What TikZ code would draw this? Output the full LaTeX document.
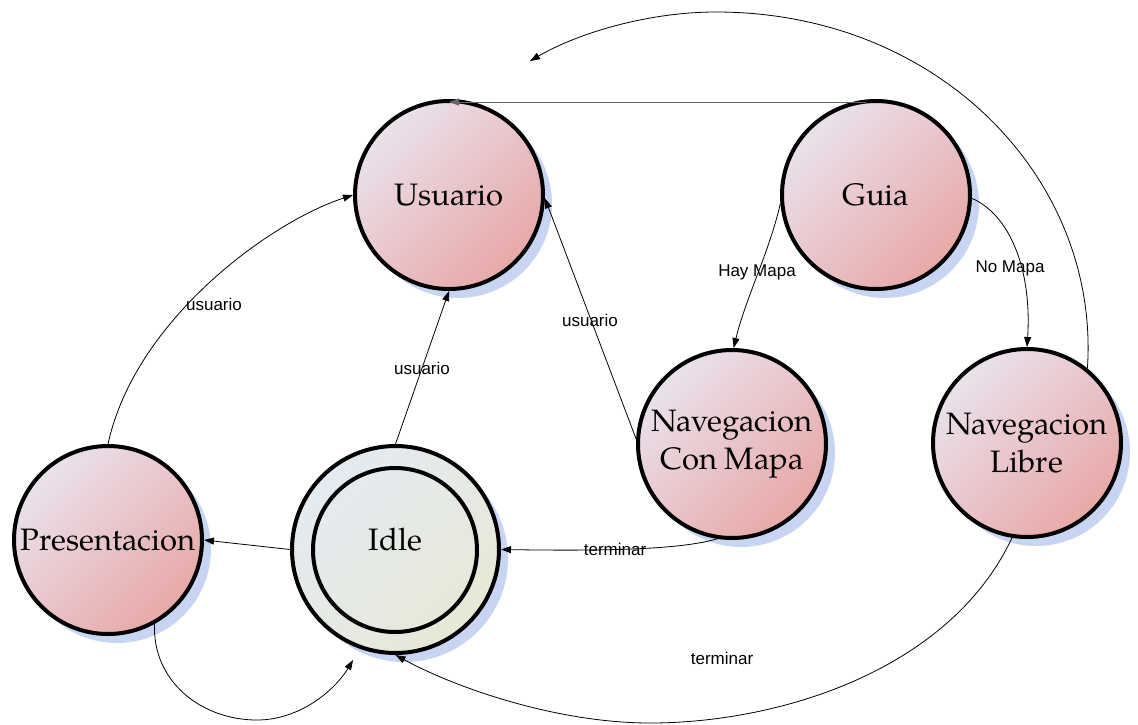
\documentclass[tikz,border=0pt]{standalone}
\usepackage{fontspec}
\newfontfamily\statefont{TeX Gyre Pagella}
\newfontfamily\labelfont{Liberation Sans}
\usetikzlibrary{arrows.meta,shadows}
\definecolor{shadowblue}{RGB}{200,213,242}
\definecolor{pinkTL}{RGB}{233,226,236}
\definecolor{pinkBR}{RGB}{232,168,168}
\definecolor{idleTL}{RGB}{227,234,242}
\definecolor{idleBR}{RGB}{231,233,214}
\begin{document}
\begin{tikzpicture}[x=1pt,y=-1pt,
  statebase/.style={circle, inner sep=0pt, line width=4pt, draw=black,
    drop shadow={shadow xshift=9pt, shadow yshift=-9pt, fill=shadowblue, opacity=1},
    font=\statefont\fontsize{31}{38}\selectfont, align=center},
  state/.style={statebase, minimum size=188pt,
    top color=pinkTL, bottom color=pinkBR, shading angle=45},
  idlestate/.style={statebase, minimum size=207pt,
    top color=idleTL, bottom color=idleBR, shading angle=45},
  ring/.style={circle, inner sep=0pt, line width=4pt, draw=black, minimum size=164pt},
  conn/.style={line width=0.8pt, -{Triangle[length=10pt,width=7pt]}},
  lbl/.style={font=\labelfont\fontsize{17}{20}\selectfont, inner sep=0pt}]

\useasboundingbox (0,0) rectangle (1138,724);

% states
\node[state] (usu)  at (449,195) {Usuario};
\node[state] (guia) at (876,195) {Guia};
\node[state] (ncm)  at (732,444) {Navegacion\\Con Mapa};
\node[state] (nlib) at (1027,443) {Navegacion\\Libre};
\node[state] (pres) at (108,540) {Presentacion};
\node[idlestate] (idle) at (395.5,549.5) {\raisebox{20pt}{Idle}};
\node[ring] (idlein) at (395,550) {};

% free ends
\coordinate (topend) at (530,61);
\coordinate (idlenear) at (353,660);

% transitions
\draw[conn, draw=black!60] ([xshift=-10pt,yshift=-3pt]guia.north) -- ([yshift=-3pt]usu.north);

\draw[conn] (nlib.51) .. controls (1100,180) and (940,12) .. (716,12)
                      .. controls (650,12) and (580,32) .. (topend);

\draw[conn] (guia.185) .. controls (770,250) and (745,300) .. (ncm.89);
\node[lbl] (lhay) at (757,272) {Hay Mapa};

\draw[conn] (guia.-2) .. controls (1010,215) and (1032,270) .. (nlib.north);
\node[lbl] (lno) at (1010,268) {No Mapa};

\draw[conn] (ncm.177) -- (usu.-2);
\node[lbl] (lu3) at (590,320) {usuario};

\draw[conn] (idle.north) -- (usu.south);
\node[lbl] (lu2) at (422,368) {usuario};

\draw[conn] (pres.north) .. controls (135,320) and (270,222) .. (usu.west);
\node[lbl] (lu1) at (214,304) {usuario};

\draw[conn] (idle.west) -- (pres.east);

\draw[conn] (ncm.-99) .. controls (680,550) and (600,551) .. (idle.east);
\node[lbl] (lt1) at (615,549) {terminar};

\draw[conn] (nlib.-99) .. controls (950,670) and (780,723) .. (650,723)
                       .. controls (560,723) and (460,690) .. (idle.south);
\node[lbl] (lt2) at (722,658) {terminar};

\draw[conn] (pres.-61) .. controls (152,680) and (200,720) .. (257,720)
                       .. controls (300,720) and (335,690) .. (idlenear);
\end{tikzpicture}
\end{document}
